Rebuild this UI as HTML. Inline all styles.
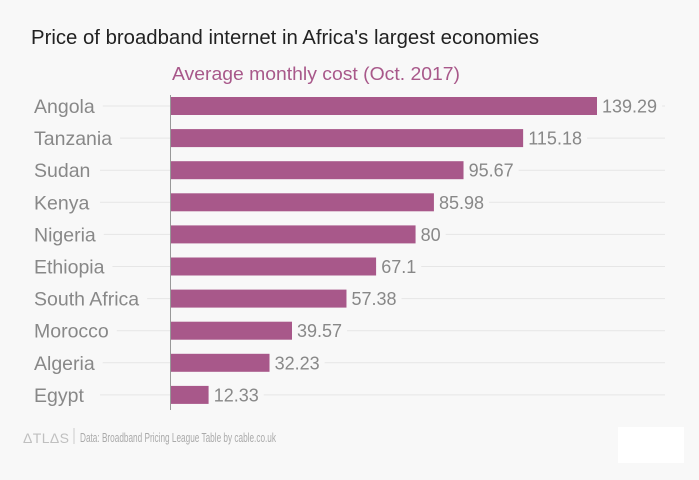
<!DOCTYPE html>
<html><head><meta charset="utf-8">
<style>
body{margin:0;background:#f8f8f8;font-family:"Liberation Sans",sans-serif;}
#wrap{position:relative;width:699px;height:480px;overflow:hidden;background:#f8f8f8;}
</style></head>
<body>
<div id="wrap">
<svg id="chart" width="699" height="480">
<text x="31" y="44" font-size="20" fill="#222" textLength="508" lengthAdjust="spacingAndGlyphs">Price of broadband internet in Africa's largest economies</text>
<text x="172" y="80" font-size="18" fill="#a8588a" textLength="288" lengthAdjust="spacingAndGlyphs">Average monthly cost (Oct. 2017)</text>
<g id="rows"></g>
<line x1="170.5" y1="95" x2="170.5" y2="410" stroke="#999" stroke-width="1"/>
<text x="23" y="443" font-size="14" fill="#c0c0c0" textLength="46" lengthAdjust="spacing">ΔTLΔS</text>
<line x1="74" y1="428" x2="74" y2="444" stroke="#ccc"/>
<text x="80" y="442" font-size="12.5" fill="#aaa" textLength="196" lengthAdjust="spacingAndGlyphs">Data:  Broadband Pricing League Table by cable.co.uk</text>
<rect x="618" y="427" width="66" height="36" fill="#fff"/>
</svg>
</div>
<script>
const categories=["Angola","Tanzania","Sudan","Kenya","Nigeria","Ethiopia","South Africa","Morocco","Algeria","Egypt"];
const values=[139.29,115.18,95.67,85.98,80,67.1,57.38,39.57,32.23,12.33];
const labels=["139.29","115.18","95.67","85.98","80","67.1","57.38","39.57","32.23","12.33"];
const ns="http://www.w3.org/2000/svg";
const x0=171, pxPer=426/139.29;
const xs=v=>x0+v*pxPer;
const ys=i=>106+i*32.1;
const g=document.getElementById('rows');
function mk(t,a){const e=document.createElementNS(ns,t);for(const k in a)e.setAttribute(k,a[k]);g.appendChild(e);return e;}
categories.forEach((c,i)=>{
 const y=ys(i);
 const grid=mk('line',{x1:100,y1:y,x2:665,y2:y,stroke:'#e6e6e6','stroke-width':1});
 
 
 const lab=mk('text',{x:34,y:y+7,'font-size':19.5,fill:'#888'});
 lab.textContent=c;
 
 
 const bg=mk('rect',{x:30,y:y-10,width:0,height:20,fill:'#f8f8f8'});
 bg.setAttribute('width',lab.getComputedTextLength()+12);
 g.insertBefore(bg,lab);
 
 
 const xe=xs(values[i]);
 const bar=mk('rect',{x:x0,y:y-9,width:xe-x0,height:18,fill:'#a8588a'});
 
 
 const vb=mk('rect',{x:xe,y:y-10,width:0,height:20,fill:'#f8f8f8'});
 const vt=mk('text',{x:xe+5,y:y+6.5,'font-size':18,fill:'#888'});
 vt.textContent=labels[i];
 vb.setAttribute('width',vt.getComputedTextLength()+10);
 
 
 
 
});
</script>
</body></html>
